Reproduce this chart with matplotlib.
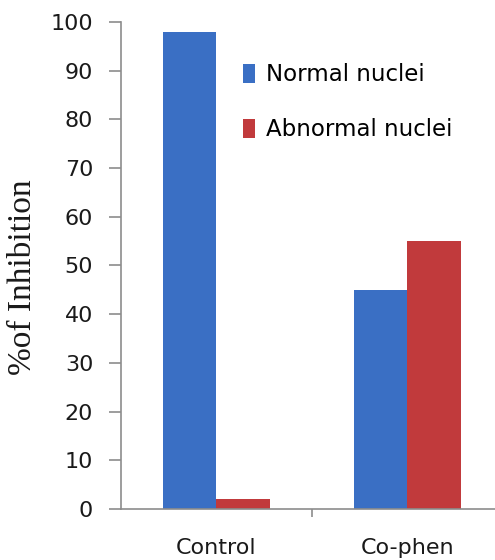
import matplotlib.pyplot as plt
import numpy as np

categories = ["Control", "Co-phen"]
normal_nuclei = [98, 45]
abnormal_nuclei = [2, 55]
y_ticks = [0, 10, 20, 30, 40, 50, 60, 70, 80, 90, 100]

blue = "#3a6fc4"
red = "#c13a3c"
grey = "#8c8c8c"

fig = plt.figure(figsize=(4.95, 5.6), dpi=100)
ax = fig.add_axes([0.2444, 0.0911, 0.7556, 0.8696])

x = np.arange(len(categories))
w = 0.28
ax.bar(x - w / 2, normal_nuclei, w, color=blue, label="Normal nuclei")
ax.bar(x + w / 2, abnormal_nuclei, w, color=red, label="Abnormal nuclei")

ax.set_xlim(-0.5, 1.46)
ax.set_ylim(0, 100)
ax.set_yticks(y_ticks)
ax.set_xticks(x)
ax.set_xticklabels(categories)
ax.set_xticks([0.5], minor=True)

for s in ["top", "right"]:
    ax.spines[s].set_visible(False)
for s in ["left", "bottom"]:
    ax.spines[s].set_color(grey)
    ax.spines[s].set_linewidth(1.2)

ax.tick_params(axis="y", which="major", length=9, color=grey, width=1.2,
               labelsize=16, pad=11)
ax.tick_params(axis="x", which="major", length=0, labelsize=16, pad=21)
ax.tick_params(axis="x", which="minor", length=6, color=grey, width=1.2)
for lab in ax.get_xticklabels() + ax.get_yticklabels():
    lab.set_family(["DejaVu Sans"])
    lab.set_color("#1a1a1a")

ax.set_ylabel("%of Inhibition", family=["Liberation Serif"], fontsize=24,
              color="#1a1a1a")
ax.yaxis.set_label_coords(-0.222, 0.476)

leg = ax.legend(loc="upper left", bbox_to_anchor=(0.27, 0.958), frameon=False,
                handlelength=0.55, handleheight=0.9, handletextpad=0.45,
                labelspacing=1.4, prop={"family": "DejaVu Sans", "size": 16.5})

fig.savefig("out.png", dpi=100)
